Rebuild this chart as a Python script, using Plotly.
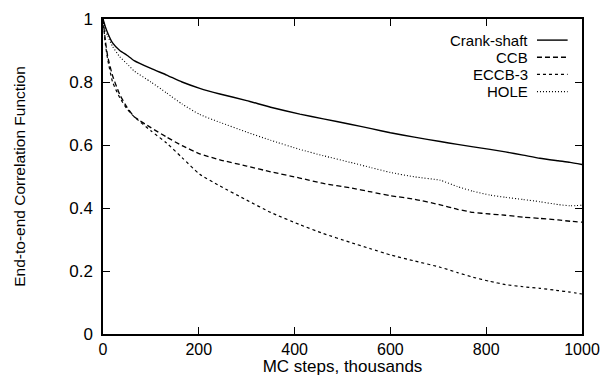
import plotly.graph_objects as go

steps = [0, 5, 10, 20, 35, 50, 65, 100, 133, 165, 202, 244, 300, 350, 411, 460, 516,
         560, 600, 650, 704, 740, 773, 808, 840, 877, 912, 950, 975, 1000]

crank = [1.0, 0.975, 0.955, 0.924, 0.90, 0.885, 0.868, 0.843, 0.822, 0.80, 0.78, 0.762,
         0.741, 0.72, 0.698, 0.683, 0.666, 0.652, 0.639, 0.625, 0.611, 0.602, 0.594, 0.586,
         0.578, 0.568, 0.558, 0.55, 0.545, 0.538]
ccb = [1.0, 0.93, 0.88, 0.82, 0.76, 0.72, 0.69, 0.655, 0.625, 0.598, 0.572, 0.553,
       0.533, 0.515, 0.495, 0.478, 0.464, 0.451, 0.439, 0.428, 0.41, 0.396, 0.386, 0.381,
       0.377, 0.371, 0.367, 0.362, 0.358, 0.355]
eccb3 = [1.0, 0.92, 0.87, 0.80, 0.75, 0.715, 0.69, 0.645, 0.606, 0.56, 0.507, 0.47,
         0.425, 0.386, 0.347, 0.319, 0.291, 0.27, 0.251, 0.232, 0.212, 0.195, 0.18, 0.167,
         0.157, 0.15, 0.145, 0.138, 0.133, 0.127]
hole = [1.0, 0.965, 0.945, 0.913, 0.88, 0.858, 0.835, 0.80, 0.765, 0.73, 0.697, 0.672,
        0.641, 0.615, 0.586, 0.566, 0.545, 0.528, 0.513, 0.499, 0.488, 0.468, 0.453, 0.441,
        0.434, 0.427, 0.42, 0.411, 0.407, 0.409]

names = ["Crank-shaft", "CCB", "ECCB-3", "HOLE"]
series = [crank, ccb, eccb3, hole]
dashes = ["solid", "5px,3px", "3px,3px", "1px,2px"]
widths = [1.4, 1.3, 1.2, 1.1]

FONT = "Liberation Sans, Arial, sans-serif"

fig = go.Figure()
for nm, ys, d, w in zip(names, series, dashes, widths):
    fig.add_trace(go.Scatter(x=steps, y=ys, mode="lines", name=nm, showlegend=False,
                             line=dict(color="black", width=w, dash=d, shape="spline", smoothing=0.5)))

# manual legend (label text left of the sample line, as in the reference)
leg_top = 0.933
leg_dy = 0.0545
for i, (nm, d, w) in enumerate(zip(names, dashes, widths)):
    yy = leg_top - i * leg_dy
    fig.add_annotation(x=0.889, y=yy, xref="paper", yref="paper", text=nm, showarrow=False,
                       xanchor="right", yanchor="middle", borderpad=0,
                       font=dict(family=FONT, size=15, color="black"))
    fig.add_shape(type="line", xref="paper", yref="paper", x0=0.906, x1=0.970, y0=yy, y1=yy,
                  line=dict(color="black", width=w, dash=d))

axis_common = dict(showline=True, linecolor="black", linewidth=1.5, mirror="ticks",
                   ticks="inside", ticklen=7, tickwidth=1.3, tickcolor="black",
                   showgrid=False, zeroline=False, automargin=False)

fig.update_xaxes(range=[0, 1000], tickvals=[0, 200, 400, 600, 800, 1000],
                 ticklabelstandoff=0, tickfont=dict(family=FONT, size=16, color="black"),
                 title=dict(text="MC steps, thousands", font=dict(family=FONT, size=17, color="black")),
                 **axis_common)
fig.update_yaxes(range=[0, 1], tickvals=[0, 0.2, 0.4, 0.6, 0.8, 1],
                 ticktext=["0", "0.2", "0.4", "0.6", "0.8", "1"],
                 ticklabelstandoff=5, tickfont=dict(family=FONT, size=17, color="black"),
                 title=dict(text="End-to-end Correlation Function", font=dict(family=FONT, size=15.5, color="black"), standoff=40),
                 **axis_common)

fig.update_layout(width=607, height=376, margin=dict(l=103, r=25, t=19, b=42),
                  plot_bgcolor="white", paper_bgcolor="white")

fig.write_html("out.html")
